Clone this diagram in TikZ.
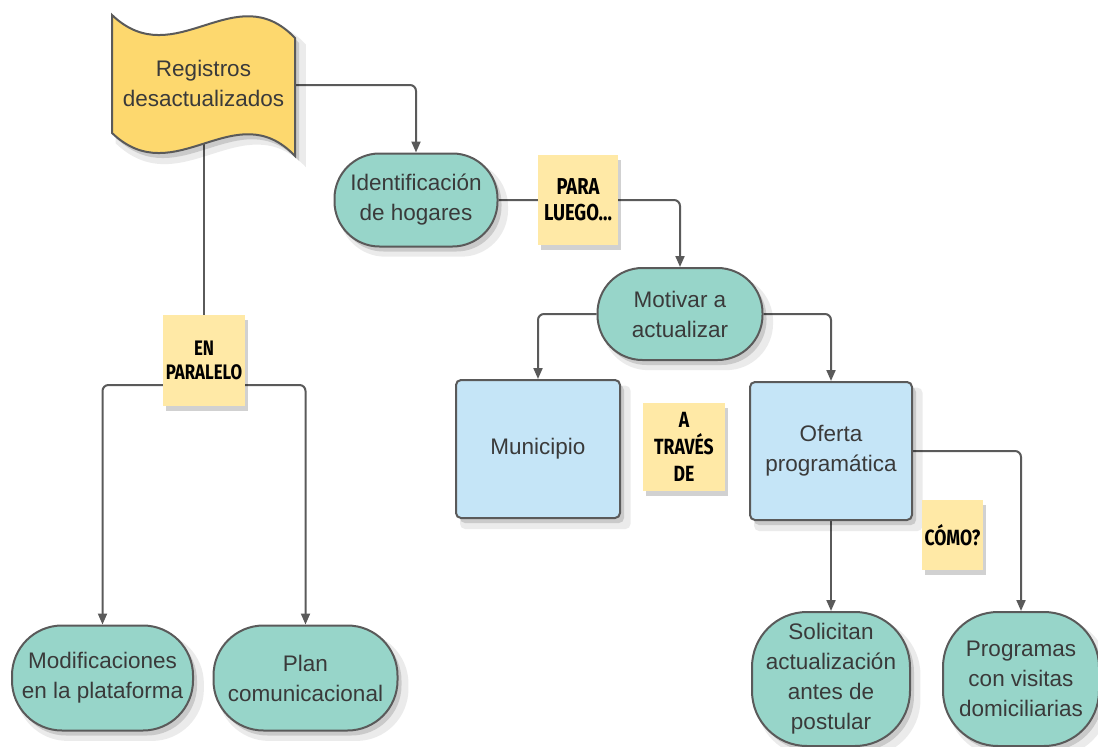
\documentclass[tikz,border=0pt]{standalone}
\usepackage{fontspec}
\setmainfont{Liberation Sans}
\newfontfamily\notefont{Fira Sans}[FakeStretch=0.8]
\usetikzlibrary{arrows.meta,shadows}
\pgfdeclarelayer{bg}
\pgfsetlayers{bg,main}
\definecolor{edge}{HTML}{5A5A5A}
\definecolor{txt}{HTML}{3A3A3A}
\definecolor{tealf}{HTML}{97D5C9}
\definecolor{bluef}{HTML}{C5E5F7}
\definecolor{yellowf}{HTML}{FDD86E}
\definecolor{notef}{HTML}{FFE9A6}
\begin{document}
\begin{tikzpicture}[x=1pt,y=-1pt,
  softshadow/.style={
    drop shadow={shadow xshift=7pt,shadow yshift=-8pt,opacity=.08,fill=black,shadow scale=1.04},
    drop shadow={shadow xshift=4pt,shadow yshift=-5pt,opacity=.14,fill=black}},
  box/.style={draw=edge,line width=2pt,text=txt,font=\fontsize{22.5}{30}\selectfont,
    align=center,inner sep=0pt,softshadow},
  stadium/.style={box,fill=tealf,rounded corners=45pt},
  rectbox/.style={box,fill=bluef,rounded corners=5pt},
  note/.style={fill=notef,inner sep=0pt,align=center,text=black,
    font=\notefont\bfseries\fontsize{23}{26}\selectfont,
    drop shadow={shadow xshift=3pt,shadow yshift=-5pt,opacity=.18,fill=black}},
  conn/.style={draw=edge,line width=2pt,rounded corners=6pt,-{Triangle[length=11pt,width=9pt]}},
  plain/.style={draw=edge,line width=2pt,rounded corners=6pt}]
\useasboundingbox (0,0) rectangle (1098,747);

% wavy document shape
\path[fill=yellowf,draw=edge,line width=2pt,softshadow]
  (112,15) .. controls (175,75) and (235,-25) .. (295,38)
  -- (295,156) .. controls (235,93) and (175,193) .. (112,133) -- cycle;
\node[text=txt,font=\fontsize{22.5}{30}\selectfont,align=center,inner sep=0pt,
  minimum width=183pt,minimum height=110pt] (reg) at (203.5,85) {\raisebox{3pt}{\begin{tabular}{@{}c@{}}Registros\\desactualizados\end{tabular}}};

% main nodes
\node[stadium,minimum width=163pt,minimum height=93pt] (ident) at (416,200) {Identificación\\de hogares};
\node[stadium,minimum width=165pt,minimum height=92pt] (motivar) at (680,314) {Motivar a\\actualizar};
\node[rectbox,minimum width=164pt,minimum height=138pt] (muni) at (538,449) {Municipio};
\node[rectbox,minimum width=162pt,minimum height=138pt] (oferta) at (831,451) {Oferta\\programática};
\node[stadium,rounded corners=55pt,minimum width=158pt,minimum height=134pt] (solic) at (831,679) {Solicitan\\actualización\\antes de\\postular};
\node[stadium,rounded corners=55pt,minimum width=156pt,minimum height=134pt] (prog) at (1021,679) {Programas\\con visitas\\domiciliarias};
\node[stadium,rounded corners=50pt,minimum width=181pt,minimum height=105pt] (modif) at (102.5,678) {Modificaciones\\en la plataforma};
\node[stadium,rounded corners=50pt,minimum width=184pt,minimum height=105pt] (plan) at (305.5,678) {Plan\\comunicacional};

% connectors
\coordinate (split) at (203.5,385);
\begin{pgfonlayer}{bg}
\draw[conn] (reg.east) -| (ident.north);
\draw[conn] (ident.east) -| (motivar.north);
\draw[conn] (motivar.west) -| (muni.north);
\draw[conn] (motivar.east) -| (oferta.north);
\draw[conn] (oferta.south) -- (solic.north);
\draw[conn] (oferta.east) -| (prog.north);
\draw[plain] (reg.south) -- (split);
\draw[conn] (split) -| (modif.north);
\draw[conn] (split) -| (plan.north);
\end{pgfonlayer}

% sticky notes
\node[note,minimum width=80pt,minimum height=90pt] (paraluego) at (578,200) {PARA\\LUEGO...};
\node[note,minimum width=82pt,minimum height=91pt,font=\notefont\bfseries\fontsize{21}{24}\selectfont] (enparalelo) at (204,360.5) {EN\\PARALELO};
\node[note,minimum width=82pt,minimum height=88pt,font=\notefont\bfseries\fontsize{22}{27}\selectfont] (atraves) at (684,447) {A\\TRAVÉS\\DE};
\node[note,minimum width=61pt,minimum height=70pt,font=\notefont\bfseries\fontsize{22}{24}\selectfont] (como) at (952.5,535) {CÓMO?};
\end{tikzpicture}
\end{document}
